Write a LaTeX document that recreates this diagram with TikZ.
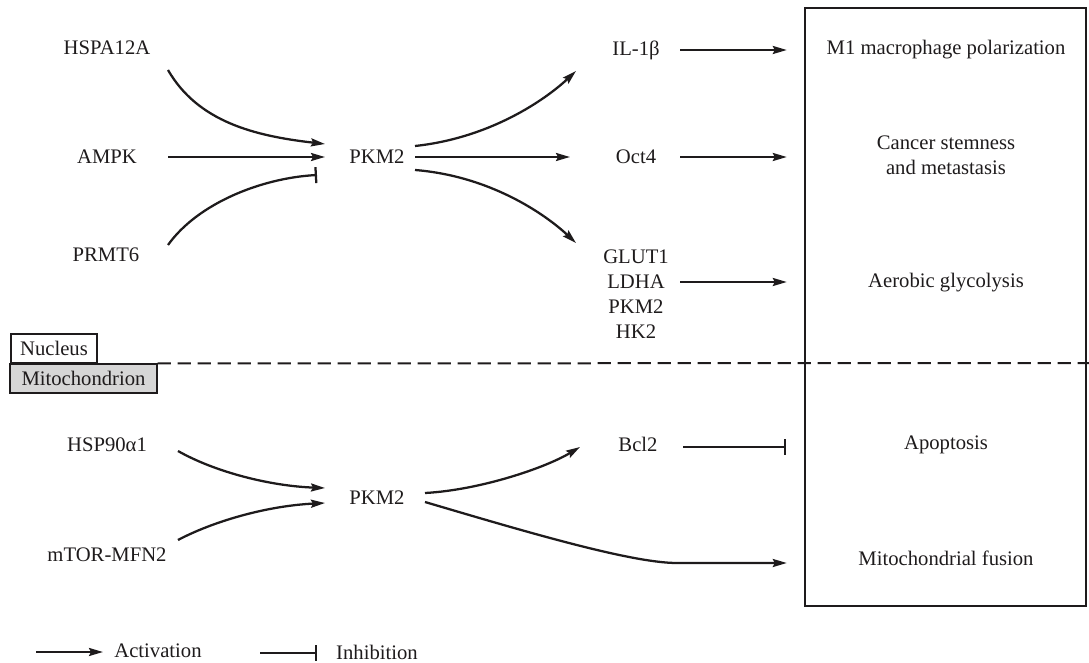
\documentclass[tikz,border=0pt]{standalone}
\usepackage{fontspec}
\setmainfont{Liberation Serif}
\usepackage{tikz}
\usetikzlibrary{positioning}
\usetikzlibrary{calc}
\usetikzlibrary{arrows.meta}
\definecolor{ink}{RGB}{30,27,28}
\definecolor{shade}{RGB}{214,214,214}
\newcommand{\gsize}{\fontsize{15.5pt}{18.75pt}\selectfont}
\tikzstyle{gene} = [inner sep=0pt, text=ink, font=\gsize]
\tikzstyle{fate} = [gene, align=center]
\tikzstyle{act} = [draw=ink, line width=1.7pt, -{Stealth[length=10.5pt,width=6pt,inset=1.5pt]}]
\tikzstyle{inh} = [draw=ink, line width=1.7pt, -{Bar[width=12pt]}]
\tikzstyle{compartment} = [draw=ink, line width=0.8pt, inner sep=0pt, minimum height=21.75pt, text=ink, font=\gsize]
\tikzstyle{divider} = [draw=ink, line width=1.5pt, dash pattern=on 10pt off 5pt]
\tikzstyle{outbox} = [draw=ink, line width=1.8pt, minimum width=210.75pt, minimum height=448.5pt]

\begin{document}
\begin{tikzpicture}[x=0.75pt, y=-0.75pt, node distance=18.75pt]
	\useasboundingbox (0,0) rectangle (1089,663);
	\node[outbox] (outcome) at (945.5,307) {};

	\node[gene] (hspa) at (107,48) {HSPA12A};
	\node[gene] (ampk) at (107,157) {AMPK};
	\node[gene] (prmt) at (106,255) {PRMT6};
	\node[gene] (pkmA) at (377,157) {PKM2};
	\node[gene] (il) at (636,50) {IL-1β};
	\node[gene] (oct) at (636,157) {Oct4};
	\node[gene] (glut) at (636,257) {GLUT1};
	\node[gene, below of=glut] (ldha) {LDHA};
	\node[gene, below of=ldha] (pkmB) {PKM2};
	\node[gene, below of=pkmB] (hk) {HK2};

	\node[fate] (m1) at (946,50) {M1 macrophage polarization};
	\node[fate] (stem) at (946,155) {Cancer stemness\\and metastasis};
	\node[fate] (glyco) at (946,283) {Aerobic glycolysis};
	\node[fate] (apop) at (946,445) {Apoptosis};
	\node[fate] (fusion) at (946,558) {Mitochondrial fusion};

	\node[gene] (hsp) at (107,445) {HSP90α1};
	\node[gene] (mtor) at (107,555) {mTOR-MFN2};
	\node[gene] (pkmC) at (377,498) {PKM2};
	\node[gene] (bcl) at (638,444) {Bcl2};

	\node[compartment, minimum width=64.5pt] (nucleus) at (54,348.5) {Nucleus};
	\node[compartment, fill=shade, minimum width=110.25pt] (mito) at (83.5,378.5) {Mitochondrion};
	\coordinate (rim) at (1089,363);
	\draw[divider] (mito.north east) -- (rim);

	\draw[act] ($(hspa)+(61,22)$) .. controls +(30,52) and +(-70,-8) .. ($(pkmA)+(-52,-13)$);
	\draw[act] ($(ampk)+(61,0)$) -- ($(pkmA)+(-52,0)$);
	\draw[inh] ($(prmt)+(62,-10)$) .. controls +(30,-42) and +(-55,3) .. ($(pkmA)+(-60,18)$);

	\draw[act] ($(pkmA)+(38,-11)$) .. controls +(75,-8) and +(-31,29) .. ($(il)+(-60,21)$);
	\draw[act] ($(pkmA)+(38,0)$) -- ($(oct)+(-66,0)$);
	\draw[act] ($(pkmA)+(38,13)$) .. controls +(75,6) and +(-31,-29) .. ($(glut)+(-60,-14)$);

	\draw[act, shorten >=12.75pt] ($(il)+(44,0)$) -- (il -| outcome.west);
	\draw[act, shorten >=12.75pt] ($(oct)+(44,0)$) -- (oct -| outcome.west);
	\draw[act, shorten >=12.75pt] ($(ldha)+(44,0)$) -- (ldha -| outcome.west);

	\draw[act] ($(hsp)+(71,6)$) .. controls +(37,21) and +(-55,-2) .. ($(pkmC)+(-52,-10)$);
	\draw[act] ($(mtor)+(71,-15)$) .. controls +(34,-18) and +(-60,3) .. ($(pkmC)+(-52,5)$);
	\draw[act] ($(pkmC)+(48,-5)$) .. controls +(55,-3) and +(-35,21) .. ($(bcl)+(-58,3)$);
	\draw[inh, shorten >=13.5pt] ($(bcl)+(45,3)$) -- ($(bcl -| outcome.west)+(0,3)$);
	\coordinate (bend) at (677,563);
	\draw[act, shorten >=12.75pt] ($(pkmC)+(48,4)$) .. controls +(95,28) and +(-47,0) .. (bend) -- (bend -| outcome.west);

	\node[gene] (actlbl) at (158,651) {Activation};
	\node[gene] (inhlbl) at (377,652) {Inhibition};
	\draw[act] ($(actlbl)+(-122,1)$) -- ($(actlbl)+(-55,1)$);
	\draw[inh] ($(inhlbl)+(-117,1)$) -- ($(inhlbl)+(-60,1)$);
\end{tikzpicture}
\end{document}
